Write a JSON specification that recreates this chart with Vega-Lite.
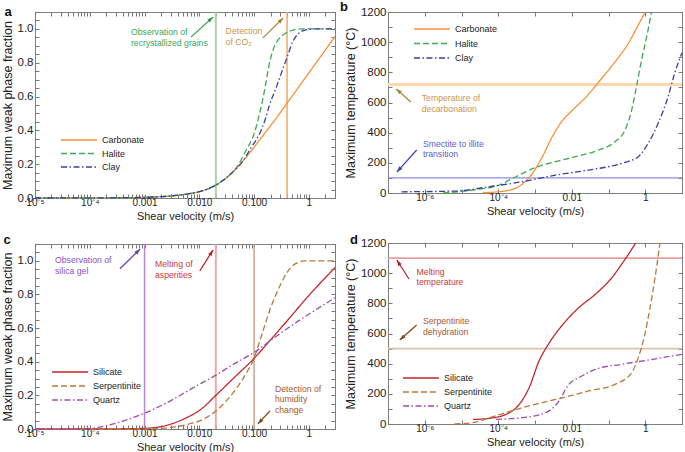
{
"$schema": "https://vega.github.io/schema/vega-lite/v6.json",
"background": "white",
"padding": {"left": 0, "top": 0, "right": 1, "bottom": 1},
"config": {
  "font": "Liberation Sans",
  "view": {"stroke": "#808080", "strokeWidth": 1},
  "axis": {"domain": false, "grid": false, "tickColor": "#777", "tickSize": -4, "tickCount": 200, "labelPadding": 6, "labelColor": "#222", "titleColor": "#222", "labelFontSize": 10, "titleFontSize": 11, "titleFontWeight": "normal", "labelOverlap": false, "labelFlush": false, "titlePadding": 3},
  "axisX": {"labelPadding": 3},
  "axisY": {"labelFontSize": 11.5, "titleFontSize": 12.5},
  "legend": {"labelFontSize": 9, "labelColor": "#222"}
},
"datasets": {
  "a_curves": [
    {"s":"Carbonate","v":1e-5,"f":0},{"s":"Carbonate","v":1e-4,"f":0.0006},{"s":"Carbonate","v":3.16e-4,"f":0.0015},{"s":"Carbonate","v":0.001,"f":0.004},{"s":"Carbonate","v":0.00316,"f":0.013},{"s":"Carbonate","v":0.00631,"f":0.025},{"s":"Carbonate","v":0.01,"f":0.037},{"s":"Carbonate","v":0.02,"f":0.076},{"s":"Carbonate","v":0.0398,"f":0.15},{"s":"Carbonate","v":0.0631,"f":0.22},{"s":"Carbonate","v":0.1,"f":0.3},{"s":"Carbonate","v":0.158,"f":0.385},{"s":"Carbonate","v":0.251,"f":0.47},{"s":"Carbonate","v":0.398,"f":0.56},{"s":"Carbonate","v":0.631,"f":0.65},{"s":"Carbonate","v":1,"f":0.74},{"s":"Carbonate","v":1.585,"f":0.83},{"s":"Carbonate","v":3,"f":0.955},
    {"s":"Halite","v":1e-5,"f":0},{"s":"Halite","v":1e-4,"f":0.0006},{"s":"Halite","v":3.16e-4,"f":0.0015},{"s":"Halite","v":0.001,"f":0.004},{"s":"Halite","v":0.00316,"f":0.013},{"s":"Halite","v":0.00631,"f":0.025},{"s":"Halite","v":0.01,"f":0.037},{"s":"Halite","v":0.02,"f":0.076},{"s":"Halite","v":0.0316,"f":0.12},{"s":"Halite","v":0.0501,"f":0.19},{"s":"Halite","v":0.0708,"f":0.28},{"s":"Halite","v":0.1,"f":0.38},{"s":"Halite","v":0.126,"f":0.5},{"s":"Halite","v":0.158,"f":0.65},{"s":"Halite","v":0.186,"f":0.78},{"s":"Halite","v":0.224,"f":0.88},{"s":"Halite","v":0.282,"f":0.94},{"s":"Halite","v":0.38,"f":0.975},{"s":"Halite","v":0.501,"f":0.992},{"s":"Halite","v":0.794,"f":1.0},{"s":"Halite","v":3,"f":1.0},
    {"s":"Clay","v":1e-5,"f":0},{"s":"Clay","v":1e-4,"f":0.0006},{"s":"Clay","v":3.16e-4,"f":0.0015},{"s":"Clay","v":0.001,"f":0.004},{"s":"Clay","v":0.00316,"f":0.013},{"s":"Clay","v":0.00631,"f":0.025},{"s":"Clay","v":0.01,"f":0.037},{"s":"Clay","v":0.02,"f":0.076},{"s":"Clay","v":0.0398,"f":0.15},{"s":"Clay","v":0.0631,"f":0.22},{"s":"Clay","v":0.0891,"f":0.3},{"s":"Clay","v":0.126,"f":0.38},{"s":"Clay","v":0.158,"f":0.46},{"s":"Clay","v":0.191,"f":0.55},{"s":"Clay","v":0.251,"f":0.65},{"s":"Clay","v":0.316,"f":0.74},{"s":"Clay","v":0.398,"f":0.83},{"s":"Clay","v":0.501,"f":0.92},{"s":"Clay","v":0.631,"f":0.97},{"s":"Clay","v":0.794,"f":0.99},{"s":"Clay","v":1.26,"f":1.0},{"s":"Clay","v":3,"f":1.0}
  ],
  "b_curves": [
    {"s":"Carbonate","v":3.8e-5,"t":2},{"s":"Carbonate","v":1e-4,"t":8},{"s":"Carbonate","v":1.62e-4,"t":14},{"s":"Carbonate","v":3.16e-4,"t":35},{"s":"Carbonate","v":4.57e-4,"t":60},{"s":"Carbonate","v":8.51e-4,"t":130},{"s":"Carbonate","v":0.00158,"t":240},{"s":"Carbonate","v":0.00295,"t":373},{"s":"Carbonate","v":0.0055,"t":478},{"s":"Carbonate","v":0.01,"t":545},{"s":"Carbonate","v":0.0288,"t":655},{"s":"Carbonate","v":0.0537,"t":735},{"s":"Carbonate","v":0.151,"t":870},{"s":"Carbonate","v":0.347,"t":992},{"s":"Carbonate","v":0.646,"t":1114},{"s":"Carbonate","v":1,"t":1200},
    {"s":"Halite","v":3.16e-6,"t":0},{"s":"Halite","v":2.04e-5,"t":20},{"s":"Halite","v":1.07e-4,"t":53},{"s":"Halite","v":3.02e-4,"t":108},{"s":"Halite","v":0.00105,"t":170},{"s":"Halite","v":0.00363,"t":208},{"s":"Halite","v":0.0126,"t":241},{"s":"Halite","v":0.0537,"t":285},{"s":"Halite","v":0.151,"t":340},{"s":"Halite","v":0.282,"t":418},{"s":"Halite","v":0.427,"t":550},{"s":"Halite","v":0.575,"t":705},{"s":"Halite","v":0.794,"t":882},{"s":"Halite","v":1.096,"t":1036},{"s":"Halite","v":1.479,"t":1200},
    {"s":"Clay","v":2.34e-7,"t":8},{"s":"Clay","v":7.24e-6,"t":13},{"s":"Clay","v":5.75e-5,"t":42},{"s":"Clay","v":4.57e-4,"t":75},{"s":"Clay","v":0.00363,"t":119},{"s":"Clay","v":0.0288,"t":152},{"s":"Clay","v":0.229,"t":197},{"s":"Clay","v":0.646,"t":241},{"s":"Clay","v":1.2,"t":329},{"s":"Clay","v":2.24,"t":462},{"s":"Clay","v":4.17,"t":638},{"s":"Clay","v":6.31,"t":793},{"s":"Clay","v":10,"t":930}
  ],
  "c_curves": [
    {"s":"Silicate","v":1e-5,"f":0},{"s":"Silicate","v":1e-4,"f":0},{"s":"Silicate","v":3.16e-4,"f":0.001},{"s":"Silicate","v":0.00102,"f":0.004},{"s":"Silicate","v":0.00269,"f":0.024},{"s":"Silicate","v":0.0055,"f":0.063},{"s":"Silicate","v":0.011,"f":0.12},{"s":"Silicate","v":0.02,"f":0.2},{"s":"Silicate","v":0.0447,"f":0.31},{"s":"Silicate","v":0.1,"f":0.42},{"s":"Silicate","v":0.182,"f":0.515},{"s":"Silicate","v":0.417,"f":0.65},{"s":"Silicate","v":0.977,"f":0.79},{"s":"Silicate","v":3,"f":0.96},
    {"s":"Serpentinite","v":1e-5,"f":0},{"s":"Serpentinite","v":0.001,"f":0},{"s":"Serpentinite","v":0.00204,"f":0.004},{"s":"Serpentinite","v":0.0055,"f":0.024},{"s":"Serpentinite","v":0.011,"f":0.053},{"s":"Serpentinite","v":0.02,"f":0.107},{"s":"Serpentinite","v":0.0447,"f":0.23},{"s":"Serpentinite","v":0.0776,"f":0.35},{"s":"Serpentinite","v":0.1,"f":0.42},{"s":"Serpentinite","v":0.126,"f":0.52},{"s":"Serpentinite","v":0.158,"f":0.62},{"s":"Serpentinite","v":0.2,"f":0.72},{"s":"Serpentinite","v":0.251,"f":0.8},{"s":"Serpentinite","v":0.316,"f":0.87},{"s":"Serpentinite","v":0.398,"f":0.93},{"s":"Serpentinite","v":0.501,"f":0.97},{"s":"Serpentinite","v":0.631,"f":0.99},{"s":"Serpentinite","v":0.794,"f":1.0},{"s":"Serpentinite","v":3,"f":1.0},
    {"s":"Quartz","v":1e-5,"f":0},{"s":"Quartz","v":3.98e-5,"f":0},{"s":"Quartz","v":1e-4,"f":0.004},{"s":"Quartz","v":2e-4,"f":0.02},{"s":"Quartz","v":3.8e-4,"f":0.045},{"s":"Quartz","v":0.001,"f":0.094},{"s":"Quartz","v":0.00269,"f":0.16},{"s":"Quartz","v":0.00724,"f":0.24},{"s":"Quartz","v":0.02,"f":0.32},{"s":"Quartz","v":0.0447,"f":0.39},{"s":"Quartz","v":0.1,"f":0.455},{"s":"Quartz","v":0.24,"f":0.546},{"s":"Quartz","v":0.741,"f":0.655},{"s":"Quartz","v":3,"f":0.78}
  ],
  "d_curves": [
    {"s":"Silicate","v":2.04e-5,"t":30},{"s":"Silicate","v":5.75e-5,"t":38},{"s":"Silicate","v":1.62e-4,"t":64},{"s":"Silicate","v":3.72e-4,"t":130},{"s":"Silicate","v":6.92e-4,"t":241},{"s":"Silicate","v":0.00129,"t":418},{"s":"Silicate","v":0.0024,"t":535},{"s":"Silicate","v":0.0055,"t":655},{"s":"Silicate","v":0.0155,"t":771},{"s":"Silicate","v":0.0437,"t":860},{"s":"Silicate","v":0.123,"t":970},{"s":"Silicate","v":0.282,"t":1092},{"s":"Silicate","v":0.55,"t":1200},
    {"s":"Serpentinite","v":6.46e-6,"t":0},{"s":"Serpentinite","v":2.04e-5,"t":9},{"s":"Serpentinite","v":5.75e-5,"t":42},{"s":"Serpentinite","v":4.57e-4,"t":108},{"s":"Serpentinite","v":0.00363,"t":163},{"s":"Serpentinite","v":0.0288,"t":219},{"s":"Serpentinite","v":0.151,"t":263},{"s":"Serpentinite","v":0.427,"t":340},{"s":"Serpentinite","v":0.646,"t":440},{"s":"Serpentinite","v":0.977,"t":595},{"s":"Serpentinite","v":1.35,"t":771},{"s":"Serpentinite","v":1.82,"t":960},{"s":"Serpentinite","v":2.51,"t":1200},
    {"s":"Quartz","v":8.71e-5,"t":31},{"s":"Quartz","v":4.57e-4,"t":42},{"s":"Quartz","v":0.00195,"t":75},{"s":"Quartz","v":0.00447,"t":152},{"s":"Quartz","v":0.00832,"t":263},{"s":"Quartz","v":0.0155,"t":307},{"s":"Quartz","v":0.0437,"t":362},{"s":"Quartz","v":0.229,"t":396},{"s":"Quartz","v":1.2,"t":424},{"s":"Quartz","v":10,"t":462}
  ]
},
"resolve": {"scale": {"color": "independent", "strokeDash": "independent"}, "legend": {"color": "independent", "strokeDash": "independent"}},
"columns": 2,
"align": {"row": "none", "column": "each"},
"spacing": {"row": 11, "column": 0},
"concat": [
{
  "width": 300, "height": 186,
  "resolve": {"axis": {"x": "independent", "y": "independent"}},
  "layer": [
   {"layer": [
    {"data": {"values": [{"v": 0.02}]}, "mark": {"type": "rule", "color": "#a9d5a2", "strokeWidth": 2}, "encoding": {"x": {"field": "v", "type": "quantitative"}}},
    {"data": {"values": [{"v": 0.4}]}, "mark": {"type": "rule", "color": "#f8a860", "strokeWidth": 1.5}, "encoding": {"x": {"field": "v", "type": "quantitative"}}},
    {"data": {"name": "a_curves"},
     "mark": {"type": "line", "interpolate": "monotone", "strokeWidth": 1.3},
     "encoding": {
       "x": {"field": "v", "type": "quantitative", "scale": {"type": "log", "domain": [1e-5, 3], "nice": false},
             "axis": {"title": "Shear velocity (m/s)", "values": [1e-5,2e-5,3e-5,4e-5,5e-5,6e-5,7e-5,8e-5,9e-5,1e-4,2e-4,3e-4,4e-4,5e-4,6e-4,7e-4,8e-4,9e-4,0.001,0.002,0.003,0.004,0.005,0.006,0.007,0.008,0.009,0.01,0.02,0.03,0.04,0.05,0.06,0.07,0.08,0.09,0.1,0.2,0.3,0.4,0.5,0.6,0.7,0.8,0.9,1,2,3],
                      "labelExpr": "abs(log(datum.value)/LN10 - round(log(datum.value)/LN10)) < 0.01 ? ['10⁻⁵','10⁻⁴','0.001','0.010','0.100','1'][round(log(datum.value)/LN10)+5] : ''"}},
       "y": {"field": "f", "type": "quantitative", "scale": {"domain": [0, 1.1], "nice": false},
             "axis": {"title": "Maximum weak phase fraction", "values": [0,0.05,0.1,0.15,0.2,0.25,0.3,0.35,0.4,0.45,0.5,0.55,0.6,0.65,0.7,0.75,0.8,0.85,0.9,0.95,1,1.05,1.1],
                      "labelExpr": "abs(datum.value*5 - round(datum.value*5)) < 0.001 && datum.value < 1.05 ? format(datum.value, '.1f') : ''"}},
       "color": {"field": "s", "type": "nominal", "scale": {"domain": ["Carbonate","Halite","Clay"], "range": ["#f7923a","#3daa4f","#3b3f9c"]},
                 "legend": {"orient": "none", "legendX": 37, "legendY": 121, "title": null, "symbolType": "M-3,0H3", "symbolSize": 144, "symbolStrokeWidth": 1.5, "labelOffset": 16, "rowPadding": 1.5, "padding": 0}},
       "strokeDash": {"field": "s", "type": "nominal", "scale": {"domain": ["Carbonate","Halite","Clay"], "range": [[1,0],[6,3],[6,2.5,1.5,2.5]]},
                 "legend": {"orient": "none", "legendX": 37, "legendY": 121, "title": null, "symbolType": "M-3,0H3", "symbolSize": 144, "symbolStrokeWidth": 1.5, "labelOffset": 16, "rowPadding": 1.5, "padding": 0}}
     }},
    {"data": {"values": [{"x1": 0.0071, "y1": 0.953, "x2": 0.0178, "y2": 1.07}]},
     "layer": [
       {"mark": {"type": "rule", "color": "#2e9a48", "strokeWidth": 1.2}, "encoding": {"x": {"field": "x1", "type": "quantitative"}, "y": {"field": "y1", "type": "quantitative"}, "x2": {"field": "x2"}, "y2": {"field": "y2"}}},
       {"mark": {"type": "point", "shape": "M0,0L-1,3L1,3Z", "filled": true, "opacity": 1, "color": "#2e9a48", "size": 16, "angle": 48}, "encoding": {"x": {"field": "x2", "type": "quantitative"}, "y": {"field": "y2", "type": "quantitative"}}}
     ]},
    {"data": {"values": [{"x1": 0.145, "y1": 0.947, "x2": 0.34, "y2": 1.065}]},
     "layer": [
       {"mark": {"type": "rule", "color": "#a8802f", "strokeWidth": 1.2}, "encoding": {"x": {"field": "x1", "type": "quantitative"}, "y": {"field": "y1", "type": "quantitative"}, "x2": {"field": "x2"}, "y2": {"field": "y2"}}},
       {"mark": {"type": "point", "shape": "M0,0L-1,3L1,3Z", "filled": true, "opacity": 1, "color": "#a8802f", "size": 16, "angle": 45}, "encoding": {"x": {"field": "x2", "type": "quantitative"}, "y": {"field": "y2", "type": "quantitative"}}}
     ]},
    {"data": {"values": [{"v": 5.65e-4, "f": 0.962, "t": "Observation of\nrecrystallized grains"}]},
     "mark": {"type": "text", "align": "left", "baseline": "alphabetic", "lineBreak": "\n", "lineHeight": 10.5, "fontSize": 8.7, "color": "#3aa55a"},
     "encoding": {"x": {"field": "v", "type": "quantitative"}, "y": {"field": "f", "type": "quantitative"}, "text": {"field": "t"}}},
    {"data": {"values": [{"v": 0.0302, "f": 0.967, "t": "Detection\nof CO₂"}]},
     "mark": {"type": "text", "align": "left", "baseline": "alphabetic", "lineBreak": "\n", "lineHeight": 10.5, "fontSize": 8.7, "color": "#c9964c"},
     "encoding": {"x": {"field": "v", "type": "quantitative"}, "y": {"field": "f", "type": "quantitative"}, "text": {"field": "t"}}},
    {"data": {"values": [{"v": 1e-5, "f": 1.1, "t": "a"}]},
     "mark": {"type": "text", "align": "center", "baseline": "middle", "dx": -27, "dy": 0, "fontSize": 13, "fontWeight": "bold", "color": "#111"},
     "encoding": {"x": {"field": "v", "type": "quantitative"}, "y": {"field": "f", "type": "quantitative"}, "text": {"field": "t"}}}
   ]},
   {"data": {"name": "a_curves"}, "mark": {"type": "point", "opacity": 0},
    "encoding": {
      "x": {"field": "v", "type": "quantitative", "axis": {"orient": "top", "labels": false, "title": null, "minExtent": 0, "maxExtent": 0, "values": [1e-5,2e-5,3e-5,4e-5,5e-5,6e-5,7e-5,8e-5,9e-5,1e-4,2e-4,3e-4,4e-4,5e-4,6e-4,7e-4,8e-4,9e-4,0.001,0.002,0.003,0.004,0.005,0.006,0.007,0.008,0.009,0.01,0.02,0.03,0.04,0.05,0.06,0.07,0.08,0.09,0.1,0.2,0.3,0.4,0.5,0.6,0.7,0.8,0.9,1,2,3]}},
      "y": {"field": "f", "type": "quantitative", "axis": {"orient": "right", "labels": false, "title": null, "minExtent": 0, "maxExtent": 0, "values": [0,0.05,0.1,0.15,0.2,0.25,0.3,0.35,0.4,0.45,0.5,0.55,0.6,0.65,0.7,0.75,0.8,0.85,0.9,0.95,1,1.05,1.1]}}
    }}
  ]
},
{
  "width": 294, "height": 181,
  "resolve": {"axis": {"x": "independent", "y": "independent"}},
  "layer": [
   {"layer": [
    {"data": {"values": [{"t": 720}]}, "mark": {"type": "rule", "color": "#fcd7b0", "strokeWidth": 3}, "encoding": {"y": {"field": "t", "type": "quantitative"}}},
    {"data": {"values": [{"t": 100}]}, "mark": {"type": "rule", "color": "#8b8fe0", "strokeWidth": 1.3}, "encoding": {"y": {"field": "t", "type": "quantitative"}}},
    {"data": {"name": "b_curves"},
     "mark": {"type": "line", "interpolate": "monotone", "strokeWidth": 1.3},
     "encoding": {
       "x": {"field": "v", "type": "quantitative", "scale": {"type": "log", "domain": [1e-7, 10], "nice": false},
             "axis": {"title": "Shear velocity (m/s)", "values": [1e-7,1e-6,1e-5,1e-4,1e-3,0.01,0.1,1,10],
                      "labelExpr": "['','10⁻⁶','','10⁻⁴','','0.01','','1',''][round(log(datum.value)/LN10)+7]"}},
       "y": {"field": "t", "type": "quantitative", "scale": {"domain": [0, 1200], "nice": false},
             "axis": {"title": "Maximum temperature (°C)", "values": [0,100,200,300,400,500,600,700,800,900,1000,1100,1200],
                      "labelExpr": "datum.value % 200 == 0 ? format(datum.value, 'd') : ''"}},
       "color": {"field": "s", "type": "nominal", "scale": {"domain": ["Carbonate","Halite","Clay"], "range": ["#f7923a","#3daa4f","#3b3f9c"]},
                 "legend": {"orient": "none", "legendX": 37, "legendY": 10, "title": null, "symbolType": "M-3,0H3", "symbolSize": 144, "symbolStrokeWidth": 1.5, "labelOffset": 16, "rowPadding": 2.5, "padding": 0}},
       "strokeDash": {"field": "s", "type": "nominal", "scale": {"domain": ["Carbonate","Halite","Clay"], "range": [[1,0],[6,3],[6,2.5,1.5,2.5]]},
                 "legend": {"orient": "none", "legendX": 37, "legendY": 10, "title": null, "symbolType": "M-3,0H3", "symbolSize": 144, "symbolStrokeWidth": 1.5, "labelOffset": 16, "rowPadding": 2.5, "padding": 0}}
     }},
    {"data": {"values": [{"x1": 4.17e-7, "y1": 603, "x2": 1.66e-7, "y2": 690}]},
     "layer": [
       {"mark": {"type": "rule", "color": "#a8802f", "strokeWidth": 1.2}, "encoding": {"x": {"field": "x1", "type": "quantitative"}, "y": {"field": "y1", "type": "quantitative"}, "x2": {"field": "x2"}, "y2": {"field": "y2"}}},
       {"mark": {"type": "point", "shape": "M0,0L-1,3L1,3Z", "filled": true, "opacity": 1, "color": "#a8802f", "size": 16, "angle": 311}, "encoding": {"x": {"field": "x2", "type": "quantitative"}, "y": {"field": "y2", "type": "quantitative"}}}
     ]},
    {"data": {"values": [{"x1": 6.03e-7, "y1": 285, "x2": 1.74e-7, "y2": 139}]},
     "layer": [
       {"mark": {"type": "rule", "color": "#3a40a8", "strokeWidth": 1.2}, "encoding": {"x": {"field": "x1", "type": "quantitative"}, "y": {"field": "y1", "type": "quantitative"}, "x2": {"field": "x2"}, "y2": {"field": "y2"}}},
       {"mark": {"type": "point", "shape": "M0,0L-1,3L1,3Z", "filled": true, "opacity": 1, "color": "#3a40a8", "size": 16, "angle": 222}, "encoding": {"x": {"field": "x2", "type": "quantitative"}, "y": {"field": "y2", "type": "quantitative"}}}
     ]},
    {"data": {"values": [{"v": 8.3e-7, "f": 607, "t": "Temperature of\ndecarbonation"}]},
     "mark": {"type": "text", "align": "left", "baseline": "alphabetic", "lineBreak": "\n", "lineHeight": 10.5, "fontSize": 8.7, "color": "#c9964c"},
     "encoding": {"x": {"field": "v", "type": "quantitative"}, "y": {"field": "f", "type": "quantitative"}, "text": {"field": "t"}}},
    {"data": {"values": [{"v": 8.9e-7, "f": 308, "t": "Smectite to illite\ntransition"}]},
     "mark": {"type": "text", "align": "left", "baseline": "alphabetic", "lineBreak": "\n", "lineHeight": 10.5, "fontSize": 8.7, "color": "#5b60c8"},
     "encoding": {"x": {"field": "v", "type": "quantitative"}, "y": {"field": "f", "type": "quantitative"}, "text": {"field": "t"}}},
    {"data": {"values": [{"v": 1e-7, "f": 1200, "t": "b"}]},
     "mark": {"type": "text", "align": "center", "baseline": "middle", "dx": -44, "dy": -5, "fontSize": 13, "fontWeight": "bold", "color": "#111"},
     "encoding": {"x": {"field": "v", "type": "quantitative"}, "y": {"field": "f", "type": "quantitative"}, "text": {"field": "t"}}}
   ]},
   {"data": {"name": "b_curves"}, "mark": {"type": "point", "opacity": 0},
    "encoding": {
      "x": {"field": "v", "type": "quantitative", "axis": {"orient": "top", "labels": false, "title": null, "minExtent": 0, "maxExtent": 0, "values": [1e-7,1e-6,1e-5,1e-4,1e-3,0.01,0.1,1,10]}},
      "y": {"field": "t", "type": "quantitative", "axis": {"orient": "right", "labels": false, "title": null, "minExtent": 0, "maxExtent": 0, "values": [0,100,200,300,400,500,600,700,800,900,1000,1100,1200]}}
    }}
  ]
},
{
  "width": 300, "height": 185,
  "resolve": {"axis": {"x": "independent", "y": "independent"}},
  "layer": [
   {"layer": [
    {"data": {"values": [{"v": 0.001}]}, "mark": {"type": "rule", "color": "#b987d4", "strokeWidth": 1.5}, "encoding": {"x": {"field": "v", "type": "quantitative"}}},
    {"data": {"values": [{"v": 0.02}]}, "mark": {"type": "rule", "color": "#e9aaa8", "strokeWidth": 2}, "encoding": {"x": {"field": "v", "type": "quantitative"}}},
    {"data": {"values": [{"v": 0.1}]}, "mark": {"type": "rule", "color": "#c9a48e", "strokeWidth": 1.5}, "encoding": {"x": {"field": "v", "type": "quantitative"}}},
    {"data": {"name": "c_curves"},
     "mark": {"type": "line", "interpolate": "monotone", "strokeWidth": 1.3},
     "encoding": {
       "x": {"field": "v", "type": "quantitative", "scale": {"type": "log", "domain": [1e-5, 3], "nice": false},
             "axis": {"title": "Shear velocity (m/s)", "values": [1e-5,2e-5,3e-5,4e-5,5e-5,6e-5,7e-5,8e-5,9e-5,1e-4,2e-4,3e-4,4e-4,5e-4,6e-4,7e-4,8e-4,9e-4,0.001,0.002,0.003,0.004,0.005,0.006,0.007,0.008,0.009,0.01,0.02,0.03,0.04,0.05,0.06,0.07,0.08,0.09,0.1,0.2,0.3,0.4,0.5,0.6,0.7,0.8,0.9,1,2,3],
                      "labelExpr": "abs(log(datum.value)/LN10 - round(log(datum.value)/LN10)) < 0.01 ? ['10⁻⁵','10⁻⁴','0.001','0.010','0.100','1'][round(log(datum.value)/LN10)+5] : ''"}},
       "y": {"field": "f", "type": "quantitative", "scale": {"domain": [0, 1.1], "nice": false},
             "axis": {"title": "Maximum weak phase fraction", "values": [0,0.05,0.1,0.15,0.2,0.25,0.3,0.35,0.4,0.45,0.5,0.55,0.6,0.65,0.7,0.75,0.8,0.85,0.9,0.95,1,1.05,1.1],
                      "labelExpr": "abs(datum.value*5 - round(datum.value*5)) < 0.001 && datum.value < 1.05 ? format(datum.value, '.1f') : ''"}},
       "color": {"field": "s", "type": "nominal", "scale": {"domain": ["Silicate","Serpentinite","Quartz"], "range": ["#c2272d","#b5793f","#a249b0"]},
                 "legend": {"orient": "none", "legendX": 28, "legendY": 121, "title": null, "symbolType": "M-3,0H3", "symbolSize": 144, "symbolStrokeWidth": 1.5, "labelOffset": 16, "rowPadding": 2, "padding": 0}},
       "strokeDash": {"field": "s", "type": "nominal", "scale": {"domain": ["Silicate","Serpentinite","Quartz"], "range": [[1,0],[6,3],[6,2.5,1.5,2.5]]},
                 "legend": {"orient": "none", "legendX": 28, "legendY": 121, "title": null, "symbolType": "M-3,0H3", "symbolSize": 144, "symbolStrokeWidth": 1.5, "labelOffset": 16, "rowPadding": 2, "padding": 0}}
     }},
    {"data": {"values": [{"x1": 3.55e-4, "y1": 0.953, "x2": 8.3e-4, "y2": 1.07}]},
     "layer": [
       {"mark": {"type": "rule", "color": "#6b3bb0", "strokeWidth": 1.2}, "encoding": {"x": {"field": "x1", "type": "quantitative"}, "y": {"field": "y1", "type": "quantitative"}, "x2": {"field": "x2"}, "y2": {"field": "y2"}}},
       {"mark": {"type": "point", "shape": "M0,0L-1,3L1,3Z", "filled": true, "opacity": 1, "color": "#6b3bb0", "size": 16, "angle": 45}, "encoding": {"x": {"field": "x2", "type": "quantitative"}, "y": {"field": "y2", "type": "quantitative"}}}
     ]},
    {"data": {"values": [{"x1": 0.0102, "y1": 0.94, "x2": 0.0178, "y2": 1.065}]},
     "layer": [
       {"mark": {"type": "rule", "color": "#b52025", "strokeWidth": 1.2}, "encoding": {"x": {"field": "x1", "type": "quantitative"}, "y": {"field": "y1", "type": "quantitative"}, "x2": {"field": "x2"}, "y2": {"field": "y2"}}},
       {"mark": {"type": "point", "shape": "M0,0L-1,3L1,3Z", "filled": true, "opacity": 1, "color": "#b52025", "size": 16, "angle": 32}, "encoding": {"x": {"field": "x2", "type": "quantitative"}, "y": {"field": "y2", "type": "quantitative"}}}
     ]},
    {"data": {"values": [{"x1": 0.195, "y1": 0.107, "x2": 0.117, "y2": 0.03}]},
     "layer": [
       {"mark": {"type": "rule", "color": "#8b4513", "strokeWidth": 1.2}, "encoding": {"x": {"field": "x1", "type": "quantitative"}, "y": {"field": "y1", "type": "quantitative"}, "x2": {"field": "x2"}, "y2": {"field": "y2"}}},
       {"mark": {"type": "point", "shape": "M0,0L-1,3L1,3Z", "filled": true, "opacity": 1, "color": "#8b4513", "size": 16, "angle": 223}, "encoding": {"x": {"field": "x2", "type": "quantitative"}, "y": {"field": "y2", "type": "quantitative"}}}
     ]},
    {"data": {"values": [{"v": 2.32e-5, "f": 0.985, "t": "Observation of\nsilica gel"}]},
     "mark": {"type": "text", "align": "left", "baseline": "alphabetic", "lineBreak": "\n", "lineHeight": 10.5, "fontSize": 8.7, "color": "#8a52c2"},
     "encoding": {"x": {"field": "v", "type": "quantitative"}, "y": {"field": "f", "type": "quantitative"}, "text": {"field": "t"}}},
    {"data": {"values": [{"v": 0.00155, "f": 0.962, "t": "Melting of\nasperities"}]},
     "mark": {"type": "text", "align": "left", "baseline": "alphabetic", "lineBreak": "\n", "lineHeight": 10.5, "fontSize": 8.7, "color": "#c8383c"},
     "encoding": {"x": {"field": "v", "type": "quantitative"}, "y": {"field": "f", "type": "quantitative"}, "text": {"field": "t"}}},
    {"data": {"values": [{"v": 0.24, "f": 0.222, "t": "Detection of\nhumidity\nchange"}]},
     "mark": {"type": "text", "align": "left", "baseline": "alphabetic", "lineBreak": "\n", "lineHeight": 10.5, "fontSize": 8.7, "color": "#a85a30"},
     "encoding": {"x": {"field": "v", "type": "quantitative"}, "y": {"field": "f", "type": "quantitative"}, "text": {"field": "t"}}},
    {"data": {"values": [{"v": 1e-5, "f": 1.1, "t": "c"}]},
     "mark": {"type": "text", "align": "center", "baseline": "middle", "dx": -28, "dy": -4, "fontSize": 13, "fontWeight": "bold", "color": "#111"},
     "encoding": {"x": {"field": "v", "type": "quantitative"}, "y": {"field": "f", "type": "quantitative"}, "text": {"field": "t"}}}
   ]},
   {"data": {"name": "c_curves"}, "mark": {"type": "point", "opacity": 0},
    "encoding": {
      "x": {"field": "v", "type": "quantitative", "axis": {"orient": "top", "labels": false, "title": null, "minExtent": 0, "maxExtent": 0, "values": [1e-5,2e-5,3e-5,4e-5,5e-5,6e-5,7e-5,8e-5,9e-5,1e-4,2e-4,3e-4,4e-4,5e-4,6e-4,7e-4,8e-4,9e-4,0.001,0.002,0.003,0.004,0.005,0.006,0.007,0.008,0.009,0.01,0.02,0.03,0.04,0.05,0.06,0.07,0.08,0.09,0.1,0.2,0.3,0.4,0.5,0.6,0.7,0.8,0.9,1,2,3]}},
      "y": {"field": "f", "type": "quantitative", "axis": {"orient": "right", "labels": false, "title": null, "minExtent": 0, "maxExtent": 0, "values": [0,0.05,0.1,0.15,0.2,0.25,0.3,0.35,0.4,0.45,0.5,0.55,0.6,0.65,0.7,0.75,0.8,0.85,0.9,0.95,1,1.05,1.1]}}
    }}
  ]
},
{
  "width": 294, "height": 181,
  "resolve": {"axis": {"x": "independent", "y": "independent"}},
  "layer": [
   {"layer": [
    {"data": {"values": [{"t": 1100}]}, "mark": {"type": "rule", "color": "#eb9c9c", "strokeWidth": 1.8}, "encoding": {"y": {"field": "t", "type": "quantitative"}}},
    {"data": {"values": [{"t": 500}]}, "mark": {"type": "rule", "color": "#dcc3b0", "strokeWidth": 1.8}, "encoding": {"y": {"field": "t", "type": "quantitative"}}},
    {"data": {"name": "d_curves"},
     "mark": {"type": "line", "interpolate": "monotone", "strokeWidth": 1.3},
     "encoding": {
       "x": {"field": "v", "type": "quantitative", "scale": {"type": "log", "domain": [1e-7, 10], "nice": false},
             "axis": {"title": "Shear velocity (m/s)", "values": [1e-7,1e-6,1e-5,1e-4,1e-3,0.01,0.1,1,10],
                      "labelExpr": "['','10⁻⁶','','10⁻⁴','','0.01','','1',''][round(log(datum.value)/LN10)+7]"}},
       "y": {"field": "t", "type": "quantitative", "scale": {"domain": [0, 1200], "nice": false},
             "axis": {"title": "Maximum temperature (°C)", "values": [0,100,200,300,400,500,600,700,800,900,1000,1100,1200],
                      "labelExpr": "datum.value % 200 == 0 ? format(datum.value, 'd') : ''"}},
       "color": {"field": "s", "type": "nominal", "scale": {"domain": ["Silicate","Serpentinite","Quartz"], "range": ["#c2272d","#b5793f","#a249b0"]},
                 "legend": {"orient": "none", "legendX": 26, "legendY": 128, "title": null, "symbolType": "M-3,0H3", "symbolSize": 144, "symbolStrokeWidth": 1.5, "labelOffset": 16, "rowPadding": 2, "padding": 0}},
       "strokeDash": {"field": "s", "type": "nominal", "scale": {"domain": ["Silicate","Serpentinite","Quartz"], "range": [[1,0],[6,3],[6,2.5,1.5,2.5]]},
                 "legend": {"orient": "none", "legendX": 26, "legendY": 128, "title": null, "symbolType": "M-3,0H3", "symbolSize": 144, "symbolStrokeWidth": 1.5, "labelOffset": 16, "rowPadding": 2, "padding": 0}}
     }},
    {"data": {"values": [{"x1": 3.72e-7, "y1": 961, "x2": 1.74e-7, "y2": 1087}]},
     "layer": [
       {"mark": {"type": "rule", "color": "#b52025", "strokeWidth": 1.2}, "encoding": {"x": {"field": "x1", "type": "quantitative"}, "y": {"field": "y1", "type": "quantitative"}, "x2": {"field": "x2"}, "y2": {"field": "y2"}}},
       {"mark": {"type": "point", "shape": "M0,0L-1,3L1,3Z", "filled": true, "opacity": 1, "color": "#b52025", "size": 16, "angle": 328}, "encoding": {"x": {"field": "x2", "type": "quantitative"}, "y": {"field": "y2", "type": "quantitative"}}}
     ]},
    {"data": {"values": [{"x1": 6.03e-7, "y1": 656, "x2": 2.09e-7, "y2": 557}]},
     "layer": [
       {"mark": {"type": "rule", "color": "#8b4513", "strokeWidth": 1.2}, "encoding": {"x": {"field": "x1", "type": "quantitative"}, "y": {"field": "y1", "type": "quantitative"}, "x2": {"field": "x2"}, "y2": {"field": "y2"}}},
       {"mark": {"type": "point", "shape": "M0,0L-1,3L1,3Z", "filled": true, "opacity": 1, "color": "#8b4513", "size": 16, "angle": 229}, "encoding": {"x": {"field": "x2", "type": "quantitative"}, "y": {"field": "y2", "type": "quantitative"}}}
     ]},
    {"data": {"values": [{"v": 6.0e-7, "f": 991, "t": "Melting\ntemperature"}]},
     "mark": {"type": "text", "align": "left", "baseline": "alphabetic", "lineBreak": "\n", "lineHeight": 10.5, "fontSize": 8.7, "color": "#c8383c"},
     "encoding": {"x": {"field": "v", "type": "quantitative"}, "y": {"field": "f", "type": "quantitative"}, "text": {"field": "t"}}},
    {"data": {"values": [{"v": 8.9e-7, "f": 660, "t": "Serpentinite\ndehydration"}]},
     "mark": {"type": "text", "align": "left", "baseline": "alphabetic", "lineBreak": "\n", "lineHeight": 10.5, "fontSize": 8.7, "color": "#a85a30"},
     "encoding": {"x": {"field": "v", "type": "quantitative"}, "y": {"field": "f", "type": "quantitative"}, "text": {"field": "t"}}},
    {"data": {"values": [{"v": 1e-7, "f": 1200, "t": "d"}]},
     "mark": {"type": "text", "align": "center", "baseline": "middle", "dx": -34, "dy": -3, "fontSize": 13, "fontWeight": "bold", "color": "#111"},
     "encoding": {"x": {"field": "v", "type": "quantitative"}, "y": {"field": "f", "type": "quantitative"}, "text": {"field": "t"}}}
   ]},
   {"data": {"name": "d_curves"}, "mark": {"type": "point", "opacity": 0},
    "encoding": {
      "x": {"field": "v", "type": "quantitative", "axis": {"orient": "top", "labels": false, "title": null, "minExtent": 0, "maxExtent": 0, "values": [1e-7,1e-6,1e-5,1e-4,1e-3,0.01,0.1,1,10]}},
      "y": {"field": "t", "type": "quantitative", "axis": {"orient": "right", "labels": false, "title": null, "minExtent": 0, "maxExtent": 0, "values": [0,100,200,300,400,500,600,700,800,900,1000,1100,1200]}}
    }}
  ]
}
]
}
